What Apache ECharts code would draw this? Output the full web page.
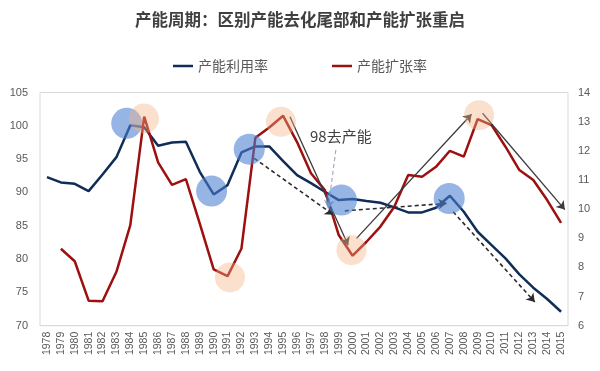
<!DOCTYPE html>
<html><head><meta charset="utf-8">
<script src="https://cdn.jsdelivr.net/npm/echarts@6/dist/echarts.min.js"></script>
<style>html,body{margin:0;padding:0;background:#fff}#c{width:600px;height:371px}</style>
</head><body><div id="c"></div>
<script>
const titleText = '产能周期：区别产能去化尾部和产能扩张重启';
const years = ['1978','1979','1980','1981','1982','1983','1984','1985','1986','1987','1988','1989','1990','1991','1992','1993','1994','1995','1996','1997','1998','1999','2000','2001','2002','2003','2004','2005','2006','2007','2008','2009','2010','2011','2012','2013','2014','2015'];
const utilName = '产能利用率';
const expandName = '产能扩张率';
const utilRate = [92.3,91.5,91.3,90.2,92.7,95.3,100.1,99.8,97.0,97.5,97.6,93.1,89.7,91.1,96.0,96.9,96.9,94.7,92.6,91.4,90.1,88.85,89.0,88.7,88.45,87.75,87.0,87.0,87.7,89.5,87.1,84.1,82.1,80.1,77.7,75.7,74.0,72.1];
const expandRate = [null,8.64,8.21,6.86,6.84,7.85,9.45,13.17,11.6,10.83,11.03,9.5,7.93,7.7,8.65,12.45,12.8,13.2,12.3,11.23,10.65,9.11,8.4,8.88,9.4,10.08,11.17,11.11,11.45,12.0,11.8,13.09,12.88,12.14,11.34,11.0,10.31,9.53];
const leftTicks = [70,105,5];
const rightTicks = [6,14,1];
// annotations in data units: [category index, left-axis value]
const blueCircles = [[5.74,100.37],[11.85,90.2],[14.56,96.5],[21.2,88.85],[28.95,89.1]];
const orangeCircles = [[6.98,101.1],[13.17,77.24],[16.84,100.6],[21.92,81.34],[31.1,101.6]];
const solidArrows = [[[17.49,101.36],[21.68,82.09]],[[22.28,83.1],[30.56,101.73]],[[31.35,101.88],[37.27,87.43]]];
const dashedArrows = [[[14.92,95.12],[20.6,86.67]],[[21.44,87.24],[28.76,88.36]],[[29.23,87.1],[35.11,73.57]]];
const noteText = '98去产能';
const notePos = [21.15,98.47];
const noteArrow = [[20.79,96.36],[20.24,87.6]];

const chart = echarts.init(document.getElementById('c'), null, {renderer:'canvas'});
const FONT = '"Noto Sans CJK SC","Noto Sans",sans-serif';
const markPts = [];
blueCircles.forEach(p=>markPts.push({coord:p, symbol:'circle', symbolSize:31, itemStyle:{color:'rgba(74,127,208,0.58)'}, label:{show:false}}));
orangeCircles.forEach(p=>markPts.push({coord:p, symbol:'circle', symbolSize:30, itemStyle:{color:'rgba(245,178,130,0.40)'}, label:{show:false}}));
markPts.push({coord:notePos, symbol:'rect', symbolSize:1, itemStyle:{color:'rgba(0,0,0,0)'}, label:{show:true, position:'inside', formatter:noteText, fontSize:15, color:'#404040', fontFamily:FONT}});
const lines = [];
solidArrows.forEach(a=>lines.push([{coord:a[0], symbol:'none'},{coord:a[1], symbol:'arrow', lineStyle:{color:'#3a3a3a', width:1.3, type:'solid'}}]));
dashedArrows.forEach(a=>lines.push([{coord:a[0], symbol:'none'},{coord:a[1], symbol:'arrow', lineStyle:{color:'#2b2b2b', width:1.6, type:[4,3]}}]));
lines.push([{coord:noteArrow[0], symbol:'none'},{coord:noteArrow[1], symbol:'arrow', lineStyle:{color:'#a8a8b8', width:1.2, type:[4,3]}}]);

chart.setOption({
  animation:false,
  backgroundColor:'#fff',
  title:{text:titleText, left:'center', top:6, textStyle:{fontFamily:FONT, fontSize:16.5, fontWeight:'bold', color:'#404040'}},
  legend:{data:[utilName, expandName], left:'center', top:54, itemGap:64, itemWidth:20, itemHeight:2.5, icon:'rect',
    textStyle:{fontFamily:FONT, fontSize:14, color:'#595959'}},
  grid:{left:40, right:32, top:92.5, bottom:45.3, show:true, borderColor:'#d9d9d9', borderWidth:1, containLabel:false},
  xAxis:[
    {type:'category', data:years, boundaryGap:true,
     axisLine:{show:true, lineStyle:{color:'#d9d9d9'}}, axisTick:{show:false},
     axisLabel:{interval:0, rotate:90, fontSize:10.5, color:'#595959', fontFamily:'"Liberation Sans",sans-serif', margin:6}},
    {type:'value', min:-0.5, max:37.5, show:false}
  ],
  yAxis:[
    {type:'value', min:leftTicks[0], max:leftTicks[1], interval:leftTicks[2], splitLine:{show:false},
     axisLine:{show:false}, axisTick:{show:false},
     axisLabel:{fontSize:11, color:'#595959', fontFamily:'"Liberation Sans",sans-serif', margin:12}},
    {type:'value', min:rightTicks[0], max:rightTicks[1], interval:rightTicks[2], splitLine:{show:false},
     axisLine:{show:false}, axisTick:{show:false},
     axisLabel:{fontSize:11, color:'#595959', fontFamily:'"Liberation Sans",sans-serif', margin:10}}
  ],
  series:[
    {name:utilName, type:'line', data:utilRate, xAxisIndex:0, yAxisIndex:0, symbol:'none', z:3,
     lineStyle:{color:'#0f2d56', width:2.5}, itemStyle:{color:'#0f2d56'}},
    {name:expandName, type:'line', data:expandRate, xAxisIndex:0, yAxisIndex:1, symbol:'none', z:3,
     lineStyle:{color:'#9c1010', width:2.5}, itemStyle:{color:'#9c1010'}},
    {name:'annot', type:'line', data:[], xAxisIndex:1, yAxisIndex:0, z:5, silent:true,
     markPoint:{silent:true, data:markPts, animation:false},
     markLine:{silent:true, symbolSize:8, label:{show:false}, data:lines, animation:false}}
  ]
});
</script></body></html>
